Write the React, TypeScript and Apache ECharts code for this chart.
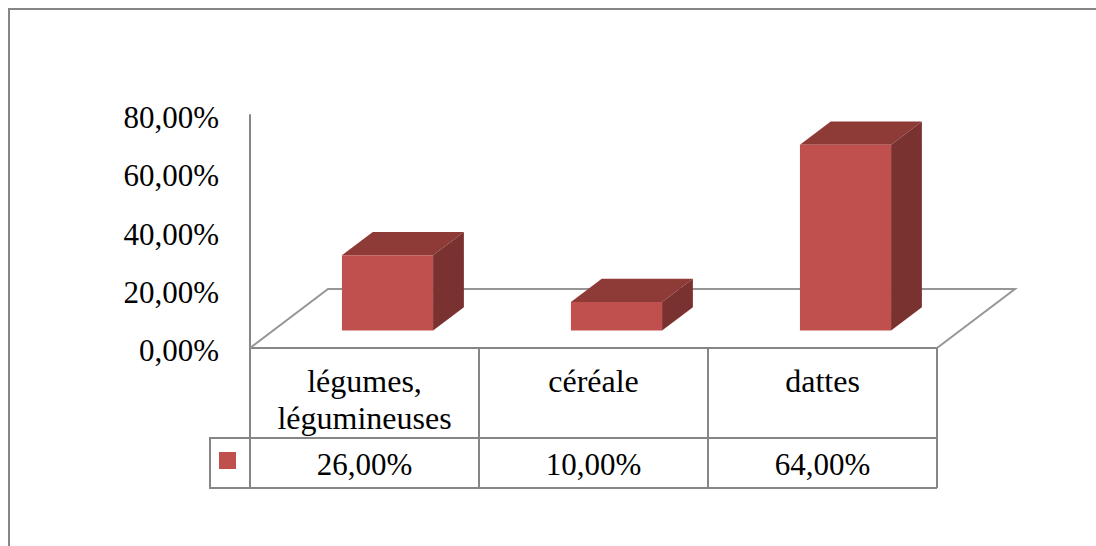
import React, { useEffect, useRef } from "react";
import * as echarts from "echarts";

const categories = ["légumes,\nlégumineuses", "céréale", "dattes"];
const values = [26, 10, 64];
const valueLabels = ["26,00%", "10,00%", "64,00%"];
const yTicks = { min: 0, max: 80, interval: 20 };

const FONT = "'Liberation Serif', 'Times New Roman', serif";
const GRAY = "#868686";
const FLOOR_GRAY = "#969696";
const FRONT = "#C0504D";
const TOP = "#8E3B38";
const SIDE = "#793230";
const FONT_SIZE = 31;
const CATEGORY_FONT_SIZE = 32;

const DEPTH_X = 78;
const DEPTH_Y = 59;
const BAR_RATIO = 0.398;
const BAR_INSET = 0.295;
const BAR_DEPTH = 0.395;

function fmt(v: number) {
  return v.toFixed(2).replace(".", ",") + "%";
}

function renderFloor(params: any, api: any) {
  const cs = params.coordSys;
  const l = cs.x;
  const r = cs.x + cs.width;
  const b = cs.y + cs.height;
  return {
    type: "polyline",
    silent: true,
    shape: {
      points: [
        [l, b],
        [l + DEPTH_X, b - DEPTH_Y],
        [r + DEPTH_X, b - DEPTH_Y],
        [r, b],
      ],
    },
    style: { stroke: FLOOR_GRAY, lineWidth: 2, fill: "none" },
  };
}

function renderBar(params: any, api: any) {
  const i = api.value(0);
  const top = api.coord([i, api.value(1)]);
  const base = api.coord([i, 0]);
  const band = api.size([1, 0])[0];
  const w = band * BAR_RATIO;
  const dx = DEPTH_X * BAR_INSET;
  const dy = DEPTH_Y * BAR_INSET;
  const ox = DEPTH_X * BAR_DEPTH;
  const oy = DEPTH_Y * BAR_DEPTH;
  const x0 = top[0] - w / 2 + dx;
  const x1 = x0 + w;
  const yb = base[1] - dy;
  const yt = top[1] - dy + 0.5;
  return {
    type: "group",
    children: [
      {
        type: "polygon",
        shape: { points: [[x0, yt], [x1, yt], [x1 + ox, yt - oy], [x0 + ox, yt - oy]] },
        style: { fill: TOP },
      },
      {
        type: "polygon",
        shape: { points: [[x1, yt], [x1 + ox, yt - oy], [x1 + ox, yb - oy], [x1, yb]] },
        style: { fill: SIDE },
      },
      {
        type: "rect",
        shape: { x: x0, y: yt, width: w, height: yb - yt },
        style: { fill: FRONT },
      },
    ],
  };
}

export default function App() {
  const ref = useRef<HTMLDivElement>(null);
  useEffect(() => {
    document.body.style.margin = "0";
    document.body.style.overflow = "hidden";
    const chart = echarts.init(ref.current!, undefined, { renderer: "svg" });
    const lineStyle = { color: GRAY, width: 2 };
    chart.setOption({
      animation: false,
      backgroundColor: "#fff",
      grid: { left: 250, right: 159, top: 115, bottom: 198, containLabel: false },
      xAxis: [
        {
          type: "category",
          data: categories,
          position: "bottom",
          axisLine: { show: true, lineStyle },
          axisTick: { show: true, length: 140, lineStyle },
          axisLabel: {
            show: true,
            color: "#000",
            fontFamily: FONT,
            fontSize: CATEGORY_FONT_SIZE,
            lineHeight: 37,
            margin: 14,
            interval: 0,
            verticalAlign: "top",
          },
        },
        {
          type: "category",
          data: valueLabels,
          position: "bottom",
          offset: 97,
          axisLine: { show: false },
          axisTick: { show: false },
          axisLabel: {
            show: true,
            color: "#000",
            fontFamily: FONT,
            fontSize: FONT_SIZE,
            lineHeight: 38,
            margin: 0,
            interval: 0,
            verticalAlign: "top",
          },
        },
      ],
      yAxis: {
        type: "value",
        min: yTicks.min,
        max: yTicks.max,
        interval: yTicks.interval,
        splitLine: { show: false },
        axisTick: { show: false },
        axisLine: { show: true, lineStyle },
        axisLabel: {
          color: "#000",
          fontFamily: FONT,
          fontSize: FONT_SIZE,
          margin: 31,
          verticalAlign: "top",
          lineHeight: 5,
          formatter: (v: number) => fmt(v),
        },
      },
      series: [
        {
          type: "custom",
          silent: true,
          z: 1,
          clip: false,
          data: [[0, 0]],
          renderItem: renderFloor,
        },
        {
          type: "custom",
          silent: true,
          z: 3,
          clip: false,
          encode: { x: 0, y: 1 },
          data: values.map((v, i) => [i, v]),
          renderItem: renderBar,
        },
      ],
      graphic: [
        {
          type: "rect",
          silent: true,
          shape: { x: 9, y: 9, width: 1200, height: 700 },
          style: { fill: "none", stroke: GRAY, lineWidth: 2 },
        },
        {
          type: "polyline",
          silent: true,
          shape: { points: [[937, 438], [210, 438], [210, 488], [937, 488]] },
          style: { fill: "none", stroke: GRAY, lineWidth: 2 },
        },
        {
          type: "rect",
          silent: true,
          shape: { x: 219, y: 452, width: 17, height: 17 },
          style: { fill: FRONT },
        },
      ],
    });
    return () => chart.dispose();
  }, []);
  return <div ref={ref} style={{ width: 1096, height: 546 }} />;
}
